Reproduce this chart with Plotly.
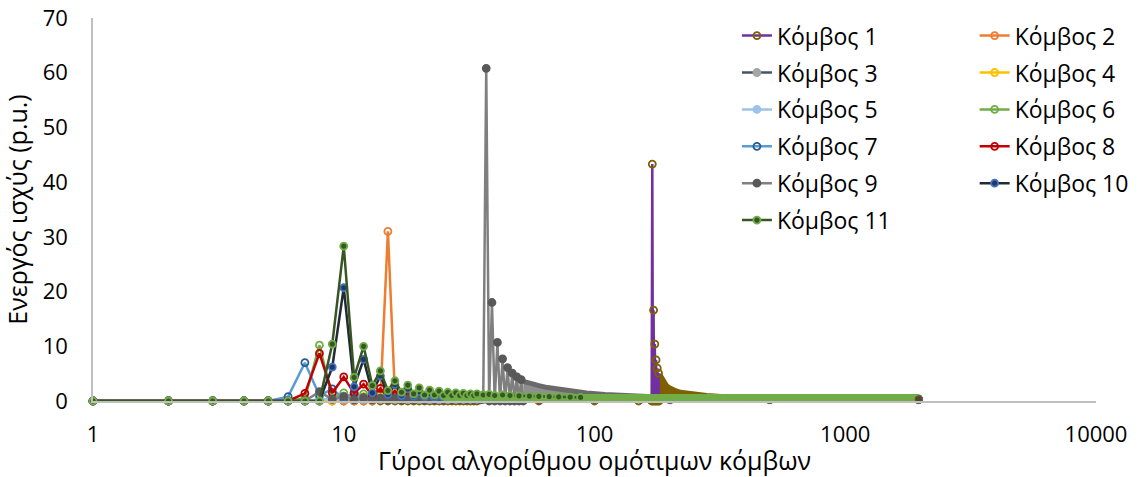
import plotly.graph_objects as go

# ---------------- data ----------------
rounds_early = [1, 2, 3, 4, 5, 6, 7, 8, 9, 10, 11, 12, 13, 14, 15, 16, 17,
                18, 19, 20, 21, 22, 23, 24, 25, 26, 27, 28, 29, 30, 31, 32, 33, 34]
rounds_late = [40, 60, 100, 200, 500, 1960]

node1_early = [0, 0, 0, 0, 0, 0, 0, 0, 0, 0, 0, 0, 0, 0, 0, 0, 0,
               0, 0, 0, 0, 0, 0, 0, 0, 0, 0, 0, 0, 0, 0, 0, 0, 0]
node1_spike_rounds = [60, 100, 150, 169, 170, 171, 172, 173, 174, 175, 176, 177, 178, 179, 180, 181]
node1_spike_vals = [0, 0, 0, 0, 43.3, 0, 16.6, 0, 10.4, 0, 7.5, 0, 6.0, 0, 5.1, 0]
node1_tail_rounds = [181, 183, 185, 188, 192, 196, 200, 210, 220, 240, 260, 280, 320, 350, 420, 500, 600, 700]
node1_tail_vals = [4.9, 4.5, 4.0, 3.4, 2.9, 2.5, 2.2, 1.8, 1.5, 1.2, 1.05, 0.9, 0.75, 0.6, 0.5, 0.4, 0.35, 0.3]

node2_early = [0, 0, 0, 0, 0, 0, 0, 0, 0, 0, 0, 0, 0, 0.5, 31.0, 1.2, 0.4,
               0.7, 0.3, 0.6, 0.3, 0.5, 0.3, 0.4, 0.3, 0.4, 0.3, 0.4, 0.3, 0.4, 0.3, 0.4, 0.3, 0.4]
node2_late = [0.3, 0.3, 0.25, 0.2, 0.2, 0.2]

node3_early = [0, 0, 0, 0, 0, 0, 0, 0, 0.3, 0.9, 0.4, 0.7, 0.3, 0.5, 0.3, 0.4, 0.3,
               0.3, 0.3, 0.3, 0.3, 0.3, 0.3, 0.3, 0.3, 0.3, 0.3, 0.3, 0.3, 0.3, 0.3, 0.3, 0.3, 0.3]
node3_late = [0.3, 0.3, 0.3, 0.3, 0.3, 0.3]

node4_early = [0, 0, 0, 0, 0, 0, 0, 0, 0, 0.5, 0.3, 0.8, 0.3, 0.6, 0.3, 0.5, 0.3,
               0.4, 0.3, 0.4, 0.3, 0.4, 0.3, 0.3, 0.3, 0.3, 0.3, 0.3, 0.3, 0.3, 0.3, 0.3, 0.3, 0.3]
node4_late = [0.3, 0.3, 0.3, 0.3, 0.3, 0.3]

node5_early = [0, 0, 0, 0, 0, 0, 0, 0.3, 0.4, 0.3, 0.5, 0.3, 0.4, 0.3, 0.4, 0.3, 0.3,
               0.3, 0.3, 0.3, 0.3, 0.3, 0.3, 0.3, 0.3, 0.3, 0.3, 0.3, 0.3, 0.3, 0.3, 0.3, 0.3, 0.3]
node5_late = [0.3, 0.3, 0.3, 0.3, 0.3, 0.3]

node6_early = [0, 0, 0, 0, 0, 0, 0.5, 10.2, 0.6, 1.5, 0.5, 1.3, 0.5, 1.1, 0.5, 1.0, 0.5,
               0.9, 0.5, 0.8, 0.5, 0.7, 0.5, 0.7, 0.5, 0.6, 0.5, 0.6, 0.5, 0.6, 0.5, 0.5, 0.5, 0.5]
node6_late = [0.45, 0.45, 0.45, 0.45, 0.45, 0.45]

node7_early = [0, 0, 0, 0, 0, 0.8, 7.0, 1.0, 2.2, 0.4, 1.6, 0.4, 1.2, 0.4, 0.9, 0.4, 0.7,
               0.4, 0.6, 0.4, 0.5, 0.4, 0.5, 0.4, 0.4, 0.4, 0.4, 0.4, 0.4, 0.4, 0.4, 0.4, 0.4, 0.4]
node7_late = [0.3, 0.3, 0.3, 0.3, 0.3, 0.3]

node8_early = [0, 0, 0, 0, 0, 0, 1.4, 8.7, 1.5, 4.4, 1.4, 3.1, 1.0, 2.3, 0.8, 1.8, 0.7,
               1.4, 0.6, 1.1, 0.5, 0.9, 0.5, 0.8, 0.4, 0.6, 0.4, 0.6, 0.4, 0.6, 0.4, 0.5, 0.4, 0.5]
node8_late = [0.4, 0.3, 0.3, 0.3, 0.3, 0.3]

node9_early = [0, 0, 0, 0, 0, 0, 0, 1.7, 0.3, 0.8, 0.2, 0.6, 0.2, 0.5, 0.2, 0.5, 0.2,
               0.4, 0.2, 0.4, 0.2, 0.4, 0.2, 0.4, 0.2, 0.4, 0.2, 0.4, 0.2, 0.4, 0.2, 0.4, 0.2, 0.4]
node9_spike_rounds = [35, 36, 37, 38, 39, 40, 41, 42, 43, 44, 45, 46, 47, 48, 49, 50, 51, 52]
node9_spike_vals = [0.2, 0.3, 60.8, 0, 18.0, 0, 10.7, 0, 7.7, 0, 6.1, 0, 5.1, 0, 4.4, 0, 3.9, 0]
node9_tail_rounds = [52, 55, 60, 65, 70, 80, 93, 110, 130, 170, 220, 300]
node9_tail_vals = [3.6, 3.2, 2.8, 2.45, 2.2, 1.8, 1.45, 1.2, 1.0, 0.75, 0.55, 0.4]

node10_early = [0, 0, 0, 0, 0, 0, 0, 0, 6.2, 20.7, 2.6, 7.6, 1.5, 4.6, 1.2, 3.0, 1.0,
                2.2, 0.9, 1.7, 0.8, 1.4, 0.7, 1.2, 0.7, 1.0, 0.6, 0.9, 0.6, 0.8, 0.5, 0.7, 0.5, 0.7]
node10_late = [0.5, 0.4, 0.35, 0.3, 0.3, 0.3]

node11_early = [0, 0, 0, 0, 0, 0, 0, 0, 10.4, 28.3, 4.3, 10.0, 2.8, 5.5, 1.9, 3.7, 1.6,
                2.9, 1.3, 2.4, 1.1, 2.0, 1.1, 1.8, 1.0, 1.6, 1.0, 1.5, 1.0, 1.4, 1.0, 1.3, 1.0, 1.3]
node11_mid_rounds = [36, 38, 40, 43, 46, 50, 55, 60, 66, 72, 80, 88]
node11_mid_vals = [1.1, 1.2, 1.0, 1.1, 1.0, 0.95, 0.9, 0.85, 0.8, 0.75, 0.7, 0.65]
node11_end_round = [1960]
node11_end_val = [0.3]

band_rounds = [25, 40, 60, 90, 150, 300, 600, 1000, 1960]
band_vals = [0.45, 0.45, 0.45, 0.45, 0.45, 0.45, 0.45, 0.45, 0.45]

x_tick_vals = [1, 10, 100, 1000, 10000]
x_tick_text = ["1", "10", "100", "1000", "10000"]
y_tick_vals = [0, 10, 20, 30, 40, 50, 60, 70]

names = ["Κόμβος %d" % i for i in range(1, 12)]

# ---------------- styling ----------------
FONT = "Open Sans"
LW = 2.5
MS = 7

styles = {
    1: dict(line="#7030A0", symbol="circle-open", mcolor="#7F6000", mline="#7F6000"),
    2: dict(line="#ED7D31", symbol="circle-open", mcolor="#ED7D31", mline="#ED7D31"),
    3: dict(line="#44546A", symbol="circle", mcolor="#A5A5A5", mline="#A5A5A5"),
    4: dict(line="#FFC000", symbol="circle-open", mcolor="#FFC000", mline="#FFC000"),
    5: dict(line="#9DC3E6", symbol="circle", mcolor="#9DC3E6", mline="#9DC3E6"),
    6: dict(line="#70AD47", symbol="circle-open", mcolor="#70AD47", mline="#70AD47"),
    7: dict(line="#5B9BD5", symbol="circle-open", mcolor="#255E91", mline="#255E91"),
    8: dict(line="#C00000", symbol="circle-open", mcolor="#C00000", mline="#C00000"),
    9: dict(line="#7F7F7F", symbol="circle", mcolor="#595959", mline="#595959"),
    10: dict(line="#222A35", symbol="circle", mcolor="#1F3864", mline="#4472C4"),
    11: dict(line="#375623", symbol="circle", mcolor="#375623", mline="#70AD47"),
}

fig = go.Figure()


def node_trace(i, x, y, showlegend=True):
    s = styles[i]
    return go.Scatter(
        x=x, y=y, mode="lines+markers", name=names[i - 1],
        legend="legend" if i % 2 == 1 else "legend2",
        legendgroup="g%d" % i, showlegend=showlegend,
        line=dict(color=s["line"], width=LW),
        marker=dict(size=MS, symbol=s["symbol"], color=s["mcolor"],
                    line=dict(color=s["mline"], width=1.8)),
        cliponaxis=False,
    )


# node 1: tail (dense comb rendered as filled region) then spike
fig.add_trace(go.Scatter(x=node1_tail_rounds, y=node1_tail_vals, mode="lines",
                         fill="tozeroy", fillcolor="#7F6000",
                         line=dict(color="#7F6000", width=6), showlegend=False,
                         hoverinfo="skip", cliponaxis=False))
fig.add_trace(node_trace(1, rounds_early + node1_spike_rounds, node1_early + node1_spike_vals))

node_data = {
    2: node2_early + node2_late, 3: node3_early + node3_late, 4: node4_early + node4_late,
    5: node5_early + node5_late, 6: node6_early + node6_late, 7: node7_early + node7_late,
    8: node8_early + node8_late,
}
for i in range(2, 9):
    fig.add_trace(node_trace(i, rounds_early + rounds_late, node_data[i]))

# node 9: spike + comb, tail as filled region
fig.add_trace(go.Scatter(x=node9_tail_rounds, y=node9_tail_vals, mode="lines",
                         fill="tozeroy", fillcolor="#8F8F8F",
                         line=dict(color="#6A6A6A", width=5), showlegend=False,
                         hoverinfo="skip", cliponaxis=False))
fig.add_trace(node_trace(9, rounds_early + node9_spike_rounds, node9_early + node9_spike_vals))

fig.add_trace(node_trace(10, rounds_early + rounds_late, node10_early + node10_late))

# dense marker band near zero
fig.add_trace(go.Scatter(x=band_rounds, y=band_vals, mode="lines",
                         line=dict(color="#70AD47", width=9), showlegend=False,
                         hoverinfo="skip", cliponaxis=False))

fig.add_trace(node_trace(11, rounds_early + node11_mid_rounds, node11_early + node11_mid_vals))
s11 = styles[11]
fig.add_trace(go.Scatter(x=node11_end_round, y=node11_end_val, mode="markers", showlegend=False,
                         marker=dict(size=MS, color=s11["mcolor"], line=dict(color="#A33", width=1)),
                         cliponaxis=False))

axis_font = dict(family=FONT, size=22, color="#000000")
title_font = dict(family=FONT, size=25, color="#000000")
legend_common = dict(font=dict(family=FONT, size=23, color="#000000"), bgcolor="rgba(0,0,0,0)",
                     traceorder="grouped", tracegroupgap=4, xanchor="left", yanchor="top",
                     itemclick=False)

fig.update_layout(
    width=1140, height=477,
    margin=dict(l=93, r=44, t=18, b=76, autoexpand=False),
    paper_bgcolor="white", plot_bgcolor="white",
    font=dict(family=FONT, size=22, color="#000000"),
    legend=dict(x=0.642, y=1.01, **legend_common),
    legend2=dict(x=0.879, y=1.01, **legend_common),
    xaxis=dict(type="log", range=[0, 4], tickvals=x_tick_vals, ticktext=x_tick_text,
               showgrid=False, zeroline=False, showline=True, linecolor="#BFBFBF", linewidth=1.5,
               ticks="", tickfont=axis_font, ticklabelstandoff=13, automargin=False,
               ticklabeloverflow="allow",
               title=dict(text="Γύροι αλγορίθμου ομότιμων κόμβων", font=title_font, standoff=4)),
    yaxis=dict(range=[0, 70], tickvals=y_tick_vals, showgrid=False, zeroline=False,
               showline=True, linecolor="#BFBFBF", linewidth=1.5, ticks="",
               tickfont=axis_font, ticklabelstandoff=19, automargin=False,
               ticklabeloverflow="allow",
               title=dict(text="Ενεργός ισχύς (p.u.)", font=title_font, standoff=9)),
    showlegend=True,
)

# place the figure at the very top-left of the page (no default body margin)
fig.write_html("out.html", config={"displayModeBar": False},
               post_script="document.body.style.margin='0px';")
